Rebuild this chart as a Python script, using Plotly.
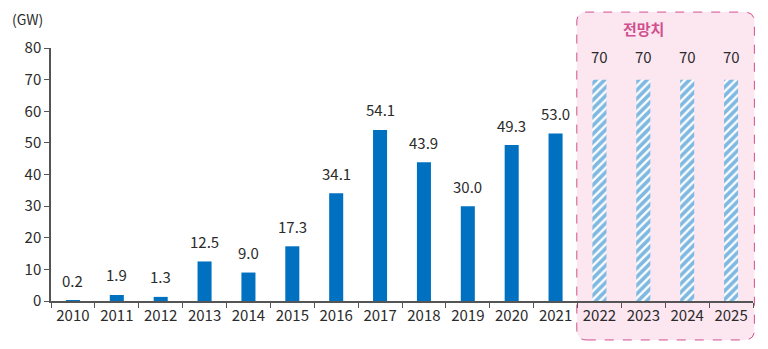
import plotly.graph_objects as go

years = ["2010","2011","2012","2013","2014","2015","2016","2017","2018","2019","2020","2021"]
actual = [0.2, 1.9, 1.3, 12.5, 9.0, 17.3, 34.1, 54.1, 43.9, 30.0, 49.3, 53.0]
actual_labels = ["0.2","1.9","1.3","12.5","9.0","17.3","34.1","54.1","43.9","30.0","49.3","53.0"]
f_years = ["2022","2023","2024","2025"]
forecast = [70, 70, 70, 70]
forecast_labels = ["70","70","70","70"]

FONT = "Noto Sans CJK KR"
BLUE = "#0070C0"
TXT = "#2B2B2B"
PINK = "#D0508E"

all_years = years + f_years

fig = go.Figure()
fig.add_trace(go.Bar(x=years, y=actual, width=0.32, marker=dict(color=BLUE, line_width=0)))
fig.add_trace(go.Bar(x=f_years, y=forecast, width=0.32,
                     marker=dict(color="white", line_width=0,
                                 pattern=dict(shape="/", fgcolor="#0071C4", bgcolor="white",
                                              size=6, solidity=0.62))))

for yr, yv, lab in zip(years, actual, actual_labels):
    fig.add_annotation(x=all_years.index(yr), y=yv, text=lab, showarrow=False,
                       yanchor="middle", yshift=20,
                       font=dict(size=15, color=TXT, family=FONT))
for yr, yv, lab in zip(f_years, forecast, forecast_labels):
    fig.add_annotation(x=all_years.index(yr), y=yv, text=lab, showarrow=False,
                       yanchor="middle", yshift=23,
                       font=dict(size=15, color=TXT, family=FONT))

# rounded dashed box (paper coords)
x0, x1 = 0.749, 1.002
y0, y1 = -0.154, 1.142
rx, ry = 0.0142, 0.0395
path = (f"M {x0+rx},{y0} L {x1-rx},{y0} Q {x1},{y0} {x1},{y0+ry} "
        f"L {x1},{y1-ry} Q {x1},{y1} {x1-rx},{y1} L {x0+rx},{y1} "
        f"Q {x0},{y1} {x0},{y1-ry} L {x0},{y0+ry} Q {x0},{y0} {x0+rx},{y0} Z")
fig.add_shape(type="path", path=path, xref="paper", yref="paper",
              fillcolor="#FCE6F0", line=dict(color=PINK, width=1, dash="dash"), layer="below")

fig.add_annotation(text="<b>전망치</b>", x=(x0+x1)/2, y=1.079, xref="paper", yref="paper",
                   showarrow=False, font=dict(size=15, color=PINK, family=FONT), yanchor="middle")
fig.add_annotation(text="(GW)", x=-0.033, y=1.115, xref="paper", yref="paper",
                   showarrow=False, font=dict(size=14, color=TXT, family=FONT),
                   xanchor="center", yanchor="middle")

fig.update_layout(
    width=768, height=349, margin=dict(l=51, r=15, t=48, b=48),
    paper_bgcolor="white", plot_bgcolor="rgba(0,0,0,0)",
    showlegend=False, barmode="overlay",
    font=dict(family=FONT, color=TXT, size=15),
)
fig.update_xaxes(type="category", categoryorder="array", categoryarray=all_years,
                 range=[-0.5, len(all_years) - 0.5],
                 showline=True, linecolor="#555555", linewidth=1.5,
                 ticks="outside", tickson="boundaries", ticklen=5, tickcolor="#555555",
                 tickfont=dict(size=15, color=TXT, family=FONT), showgrid=False)
fig.update_yaxes(range=[0, 80], dtick=10, showline=True, linecolor="#555555", linewidth=1.5,
                 ticks="outside", ticklen=5, tickcolor="#555555", showgrid=False, zeroline=False,
                 tickfont=dict(size=15, color=TXT, family=FONT))

fig.write_html("out.html")
